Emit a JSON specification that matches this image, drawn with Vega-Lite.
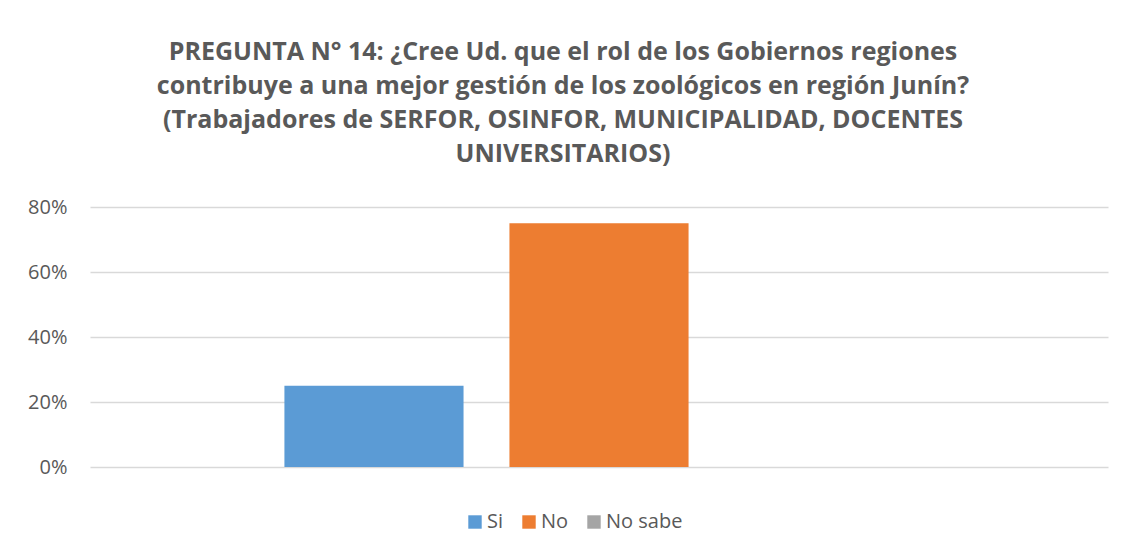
{
  "$schema": "https://vega.github.io/schema/vega-lite/v6.json",
  "width": 1018,
  "height": 260,
  "autosize": {"type": "none"},
  "padding": {"left": 90, "top": 207, "right": 17, "bottom": 86},
  "background": "white",
  "config": {
    "view": {"stroke": null},
    "font": "Open Sans"
  },
  "title": {
    "text": [
      "PREGUNTA N° 14: ¿Cree Ud. que el rol de los Gobiernos regiones",
      "contribuye a una mejor gestión de los zoológicos en región Junín?",
      "(Trabajadores de SERFOR, OSINFOR, MUNICIPALIDAD, DOCENTES",
      "UNIVERSITARIOS)"
    ],
    "font": "Open Sans",
    "fontSize": 25,
    "fontWeight": "bold",
    "color": "#595959",
    "lineHeight": 34,
    "anchor": "middle",
    "dx": -36,
    "offset": 30
  },
  "data": {
    "values": [
      {"serie": "Si", "pct": 0.25},
      {"serie": "No", "pct": 0.75},
      {"serie": "No sabe", "pct": 0}
    ]
  },
  "mark": {"type": "bar"},
  "encoding": {
    "x": {
      "field": "serie",
      "type": "nominal",
      "sort": ["Si", "No", "No sabe"],
      "scale": {"paddingInner": 0.204, "paddingOuter": 0.864},
      "axis": null
    },
    "y": {
      "field": "pct",
      "type": "quantitative",
      "scale": {"domain": [0, 0.8]},
      "axis": {
        "values": [0, 0.2, 0.4, 0.6, 0.8],
        "format": ".0%",
        "title": null,
        "domain": false,
        "ticks": false,
        "labelPadding": 23,
        "labelFont": "Open Sans",
        "labelFontSize": 20,
        "labelColor": "#595959",
        "gridColor": "#D9D9D9",
        "gridWidth": 1.5
      }
    },
    "color": {
      "field": "serie",
      "type": "nominal",
      "scale": {"domain": ["Si", "No", "No sabe"], "range": ["#5B9BD5", "#ED7D31", "#A5A5A5"]},
      "legend": {
        "title": null,
        "orient": "none",
        "direction": "horizontal",
        "legendX": 375,
        "legendY": 305,
        "symbolType": "square",
        "symbolSize": 180,
        "symbolStrokeWidth": 0,
        "labelFont": "Open Sans",
        "labelFontSize": 20,
        "labelColor": "#595959",
        "columnPadding": 15,
        "labelOffset": 2
      }
    }
  }
}
